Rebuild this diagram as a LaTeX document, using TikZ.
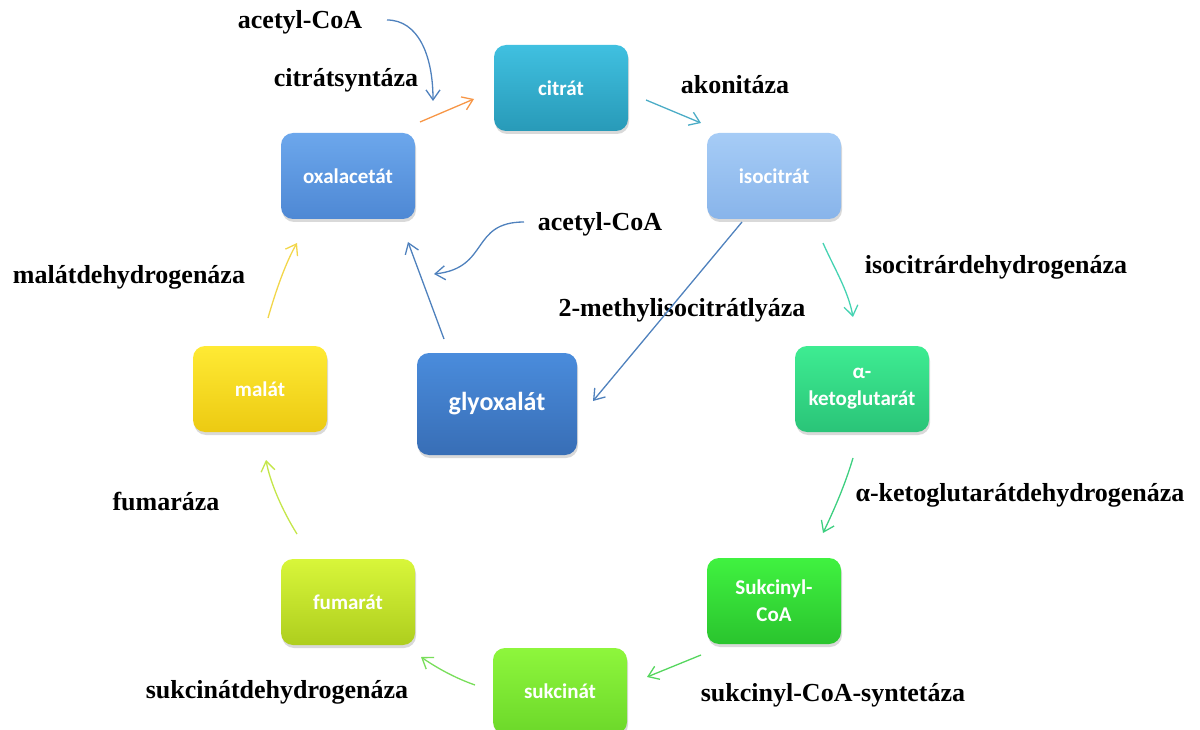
\documentclass[tikz,border=0pt]{standalone}
\usepackage{fontspec}
\setmainfont{Liberation Serif}
\newfontfamily\boxfont{Carlito}
\usetikzlibrary{arrows.meta,shadows}
\definecolor{cBlue}{HTML}{4F81BD}
\definecolor{cOrange}{HTML}{F79646}
\definecolor{cTeal}{HTML}{4BACC6}
\definecolor{cAqua}{HTML}{45D3B2}
\definecolor{cGreenA}{HTML}{3DCF80}
\definecolor{cGreenB}{HTML}{55D65E}
\definecolor{cGreenC}{HTML}{78DE5A}
\definecolor{cLime}{HTML}{C4E64A}
\definecolor{cYellow}{HTML}{F2D64A}
\begin{document}
\begin{tikzpicture}[x=1pt,y=-1pt,
  box/.style={rounded corners=12pt, minimum width=134pt, minimum height=86pt,
    inner sep=2pt, text=white, align=center,
    font=\boxfont\bfseries\fontsize{21}{27}\selectfont,
    drop shadow={opacity=0.3, shadow xshift=1pt, shadow yshift=-3pt}},
  lab/.style={font=\bfseries\fontsize{26}{30}\selectfont, inner sep=0pt},
  arr/.style={line width=1.3pt, -{Straight Barb[length=10pt,width=14pt,line width=1.3pt]}},
]
\path[use as bounding box] (0,0) rectangle (1200,730);

% boxes
\node[box, top color={rgb,255:red,64;green,192;blue,224}, bottom color={rgb,255:red,40;green,154;blue,184}] (cit) at (561,88) {citrát};
\node[box, top color={rgb,255:red,108;green,167;blue,236}, bottom color={rgb,255:red,78;green,136;blue,212}] (oxa) at (348,176) {oxalacetát};
\node[box, top color={rgb,255:red,166;green,204;blue,246}, bottom color={rgb,255:red,136;green,180;blue,234}] (iso) at (774,176) {isocitrát};
\node[box, top color={rgb,255:red,62;green,236;blue,146}, bottom color={rgb,255:red,42;green,196;blue,120}] (keto) at (862,389) {α-\\ketoglutarát};
\node[box, top color={rgb,255:red,64;green,242;blue,64}, bottom color={rgb,255:red,42;green,196;blue,46}] (suc) at (774,601) {Sukcinyl-\\CoA};
\node[box, top color={rgb,255:red,142;green,246;blue,60}, bottom color={rgb,255:red,108;green,216;blue,42}] (sukc) at (560,691) {sukcinát};
\node[box, top color={rgb,255:red,216;green,246;blue,58}, bottom color={rgb,255:red,174;green,206;blue,30}] (fum) at (348,602) {fumarát};
\node[box, top color={rgb,255:red,255;green,234;blue,52}, bottom color={rgb,255:red,236;green,202;blue,18}] (mal) at (260,389) {malát};
\node[box, minimum width=160pt, minimum height=102pt, font=\boxfont\bfseries\fontsize{26}{30}\selectfont,
  top color={rgb,255:red,74;green,140;blue,220}, bottom color={rgb,255:red,56;green,110;blue,182}] (gly) at (497,404) {glyoxalát};

% labels
\node[lab] (acA) at (300,22) {acetyl-CoA};
\node[lab] (cs) at (346,80) {citrátsyntáza};
\node[lab] (ak) at (735,85) {akonitáza};
\node[lab] (acB) at (600,224) {acetyl-CoA};
\node[lab] (idh) at (996,267) {isocitrárdehydrogenáza};
\node[lab] (mic) at (682,310) {2-methylisocitrátlyáza};
\node[lab] (mdh) at (129,277) {malátdehydrogenáza};
\node[lab] (kdh) at (1020,495) {α-ketoglutarátdehydrogenáza};
\node[lab] (fa) at (166,502) {fumaráza};
\node[lab] (sdh) at (277,692) {sukcinátdehydrogenáza};
\node[lab] (scs) at (833,695) {sukcinyl-CoA-syntetáza};

% connector end points
\coordinate (a1s) at (387,20);   \coordinate (a1e) at (433,101);
\coordinate (a2s) at (420,122);  \coordinate (a2e) at (474,99);
\coordinate (a3s) at (646,100);  \coordinate (a3e) at (701,123);
\coordinate (a4s) at (823,243);  \coordinate (a4e) at (853,317);
\coordinate (a5s) at (853,458);  \coordinate (a5e) at (823,533);
\coordinate (a6s) at (701,655);  \coordinate (a6e) at (647,677);
\coordinate (a7s) at (475,685);  \coordinate (a7e) at (421,657);
\coordinate (a8s) at (297,534);  \coordinate (a8e) at (266,460);
\coordinate (a9s) at (268,318);  \coordinate (a9e) at (297,243);
\coordinate (a10s) at (444,339); \coordinate (a10e) at (408,242);
\coordinate (a11s) at (524,222); \coordinate (a11e) at (434,274);
\coordinate (a12s) at (742,222); \coordinate (a12e) at (593,401);

% connectors
\draw[arr, cBlue] (a1s) .. controls (418,20) and (433,55) .. (a1e);
\draw[arr, cOrange] (a2s) -- (a2e);
\draw[arr, cTeal] (a3s) -- (a3e);
\draw[arr, cAqua] (a4s) .. controls (834,268) and (848,290) .. (a4e);
\draw[arr, cGreenA] (a5s) .. controls (845,485) and (834,510) .. (a5e);
\draw[arr, cGreenB] (a6s) -- (a6e);
\draw[arr, cGreenC] (a7s) .. controls (455,678) and (437,668) .. (a7e);
\draw[arr, cLime] (a8s) .. controls (282,510) and (270,482) .. (a8e);
\draw[arr, cYellow] (a9s) .. controls (276,290) and (286,262) .. (a9e);
\draw[arr, cBlue] (a10s) -- (a10e);
\draw[arr, cBlue] (a11s) .. controls (470,222) and (490,268) .. (a11e);
\draw[arr, cBlue] (a12s) -- (a12e);
\end{tikzpicture}
\end{document}
